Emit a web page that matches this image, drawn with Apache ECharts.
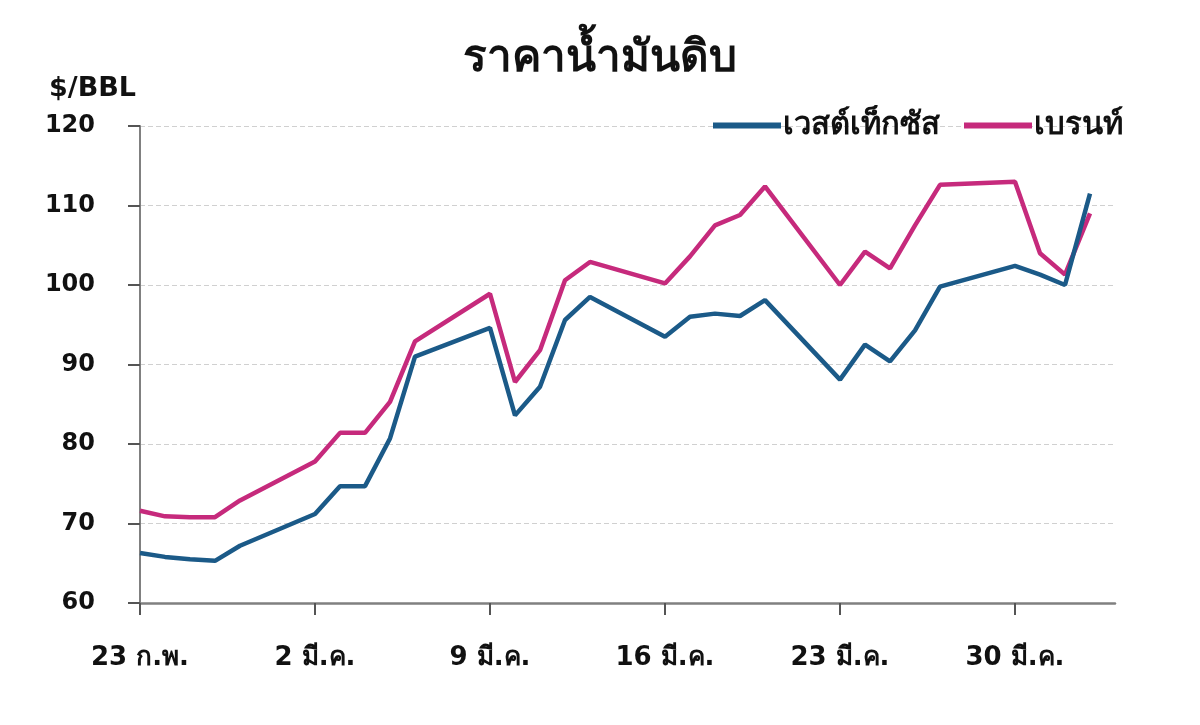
<!DOCTYPE html>
<html>
<head>
<meta charset="utf-8">
<script src="https://cdn.jsdelivr.net/npm/echarts@6/dist/echarts.min.js"></script>
<style>
html,body{margin:0;padding:0;background:#fff;}
#chart{width:1200px;height:725px;}
</style>
</head>
<body>
<div id="chart"></div>
<script>
// Daily categories, 23 Feb – 3 Apr (weekends have no quotes)
const categories = [
  '23 ก.พ.','24 ก.พ.','25 ก.พ.','26 ก.พ.','27 ก.พ.','28 ก.พ.',
  '1 มี.ค.','2 มี.ค.','3 มี.ค.','4 มี.ค.','5 มี.ค.','6 มี.ค.','7 มี.ค.','8 มี.ค.',
  '9 มี.ค.','10 มี.ค.','11 มี.ค.','12 มี.ค.','13 มี.ค.','14 มี.ค.','15 มี.ค.',
  '16 มี.ค.','17 มี.ค.','18 มี.ค.','19 มี.ค.','20 มี.ค.','21 มี.ค.','22 มี.ค.',
  '23 มี.ค.','24 มี.ค.','25 มี.ค.','26 มี.ค.','27 มี.ค.','28 มี.ค.','29 มี.ค.',
  '30 มี.ค.','31 มี.ค.','1 เม.ย.','2 เม.ย.','3 เม.ย.'
];
const wti = [66.3,65.8,65.5,65.3,67.2,null,null,71.2,74.7,74.7,80.7,91.0,null,null,
  94.6,83.6,87.2,95.6,98.5,null,null,93.5,96.0,96.4,96.1,98.1,null,null,
  88.1,92.5,90.4,94.3,99.8,null,null,102.4,101.3,100.0,111.5,null];
const brent = [71.6,70.9,70.8,70.8,72.9,null,null,77.8,81.4,81.4,85.3,92.9,null,null,
  98.9,87.8,91.8,100.6,102.9,null,null,100.2,103.6,107.5,108.8,112.4,null,null,
  100.0,104.2,102.1,107.5,112.6,null,null,113.0,104.0,101.3,109.0,null];
const seriesNames = ['เวสต์เท็กซัส','เบรนท์'];
const titleText = 'ราคาน้ำมันดิบ';
const unitText = '$/BBL';

const FONT = 'DejaVu Sans, Arial, sans-serif';
const chart = echarts.init(document.getElementById('chart'));
chart.setOption({
  animation:false,
  backgroundColor:'#fff',
  title:[
    {text:titleText,left:'center',top:33,textStyle:{fontSize:44,fontWeight:'bold',color:'#111',fontFamily:FONT}},
    {text:unitText,left:44,top:70,textStyle:{fontSize:27,fontWeight:'bold',color:'#111',fontFamily:FONT}}
  ],
  legend:{
    right:72,top:105,itemWidth:68,itemHeight:6,itemGap:24,
    icon:'rect',
    textStyle:{fontSize:31,fontWeight:'bold',color:'#111',fontFamily:FONT,padding:[0,0,0,-3]},
    data:seriesNames
  },
  grid:{left:140,right:85,top:126,bottom:122},
  xAxis:{
    type:'category',data:categories,boundaryGap:false,
    axisLine:{lineStyle:{color:'#808080',width:2.5}},
    axisTick:{interval:6,length:12,lineStyle:{color:'#555',width:2}},
    axisLabel:{interval:6,margin:42,fontSize:26,fontWeight:'bold',color:'#111',fontFamily:FONT},
    splitLine:{show:false}
  },
  yAxis:{
    type:'value',min:60,max:120,interval:10,
    axisLine:{show:true,lineStyle:{color:'#808080',width:2}},
    axisTick:{show:true,length:12,lineStyle:{color:'#555',width:2}},
    axisLabel:{margin:45,fontSize:24,fontWeight:'bold',color:'#111',fontFamily:FONT},
    splitLine:{lineStyle:{color:'#d0d0d0',type:[5,3],width:1}}
  },
  series:[
    {name:seriesNames[0],type:'line',data:wti,connectNulls:true,showSymbol:false,
     lineStyle:{width:4.5,color:'#1b5a88'},itemStyle:{color:'#1b5a88'},z:3},
    {name:seriesNames[1],type:'line',data:brent,connectNulls:true,showSymbol:false,
     lineStyle:{width:4.5,color:'#c62a7c'},itemStyle:{color:'#c62a7c'},z:2}
  ]
});
</script>
</body>
</html>
